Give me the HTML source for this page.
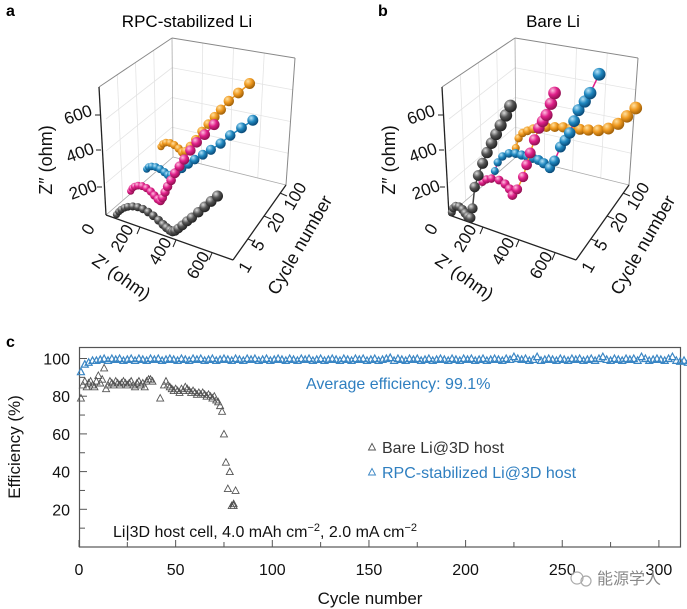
<!DOCTYPE html>
<html><head><meta charset="utf-8"><style>
body{margin:0;background:#fff;}
svg{display:block;font-family:"Liberation Sans","Noto Sans CJK SC",sans-serif;}
</style></head><body>
<svg id="fig" width="687" height="609" viewBox="0 0 687 609">
<defs>
<radialGradient id="gk" cx="35%" cy="30%" r="70%"><stop offset="0" stop-color="#ddd"/><stop offset="0.5" stop-color="#555"/><stop offset="1" stop-color="#222"/></radialGradient>
<radialGradient id="gp" cx="35%" cy="30%" r="70%"><stop offset="0" stop-color="#ffc0e0"/><stop offset="0.5" stop-color="#e0208a"/><stop offset="1" stop-color="#901050"/></radialGradient>
<radialGradient id="gb" cx="35%" cy="30%" r="70%"><stop offset="0" stop-color="#b8e4f8"/><stop offset="0.5" stop-color="#2088c0"/><stop offset="1" stop-color="#0a4a78"/></radialGradient>
<radialGradient id="go" cx="35%" cy="30%" r="70%"><stop offset="0" stop-color="#ffe0a0"/><stop offset="0.5" stop-color="#f09a20"/><stop offset="1" stop-color="#a06008"/></radialGradient>
</defs>
<text x="6" y="16" font-size="16" font-weight="bold">a</text>
<text x="378" y="16" font-size="16" font-weight="bold">b</text>
<text x="6" y="347" font-size="16" font-weight="bold">c</text>
<text x="187" y="27" font-size="17" text-anchor="middle">RPC-stabilized Li</text>
<text x="553" y="27" font-size="17" text-anchor="middle">Bare Li</text>
<g id="pa"></g>
<g id="pb"></g>
<g id="pc"></g>
<g>
<circle cx="577" cy="578" r="6" fill="none" stroke="#aaa" stroke-width="1.2"/>
<circle cx="586" cy="581" r="5" fill="none" stroke="#aaa" stroke-width="1.2"/>
<text x="597" y="584" font-size="16" fill="#888">能源学人</text>
</g>
</svg>
<script>
// ---- Panel a data: [Z', Z''] per cycle ----
const cycleLabels = ['1','5','20','100'];
const aCycle1 = [[50,5],[65,25],[80,40],[100,55],[120,66],[150,76],[180,80],[210,78],[240,70],[270,58],[300,42],[325,26],[345,14],[365,5],[380,2],[395,10],[415,28],[440,52],[470,82],[500,110],[540,150],[580,190],[620,230],[660,270]];
const aCycle5 = [[40,10],[50,28],[65,42],[85,52],[110,56],[135,52],[160,40],[180,25],[200,10],[215,5],[228,25],[245,60],[262,95],[285,135],[310,180],[340,225],[370,270],[410,330],[450,385],[500,440],[560,510]];
const aCycle20 = [[40,10],[52,25],[70,33],[95,36],[120,32],[145,22],[165,12],[185,18],[215,40],[250,70],[290,105],[330,140],[380,180],[430,220],[490,270],[550,330],[620,390],[690,450]];
const aCycle100 = [[30,10],[42,28],[60,40],[85,45],[110,40],[135,28],[155,14],[175,25],[205,60],[240,105],[280,160],[320,210],[360,260],[400,310],[450,370],[510,430],[580,500]];
// ---- Panel b data ----
const bCycle1 = [[5,5],[15,30],[30,46],[50,48],[70,38],[85,22],[100,8],[115,5],[130,60],[150,181],[175,250],[205,324],[235,390],[265,449],[295,505],[325,562],[360,625],[390,684]];
const bCycle5 = [[95,74],[120,95],[150,108],[195,112],[230,100],[255,80],[270,51],[300,90],[340,168],[365,240],[390,311],[420,390],[450,462],[475,505],[500,546],[530,615],[555,680]];
const bCycle20 = [[70,8],[90,60],[120,100],[160,128],[200,138],[235,139],[270,140],[300,140],[335,139],[365,130],[400,114],[430,160],[470,246],[500,290],[530,338],[560,410],[590,478],[630,535],[665,590],[725,708]];
const bCycle100 = [[100,22],[120,80],[145,115],[175,135],[210,155],[250,172],[290,186],[340,200],[390,212],[440,220],[490,228],[540,238],[600,252],[660,278],[720,320],[775,375],[830,435]];

function S(tag,attrs,parent){const e=document.createElementNS('http://www.w3.org/2000/svg',tag);for(const k in attrs)e.setAttribute(k,attrs[k]);parent.appendChild(e);return e;}

function draw3D(gid,dx,series,grads,lineColors,bigBall){
  const g=document.getElementById(gid);
  const O=[108+dx,213];
  const proj=(idx,a,b)=>[O[0]+16*idx+0.17*a-0.01*b, O[1]-22*idx+0.05*a-0.185*b];
  const L=(x1,y1,x2,y2,c,w)=>S('line',{x1:x1+dx,y1,x2:x2+dx,y2,stroke:c,'stroke-width':w},g);
  for(let i=1;i<4;i++){L(172+(295-172)*i/4,38+(58-38)*i/4,173+(286-173)*i/4,157+(185-157)*i/4,'#e4e4e4',0.8);}
  for(let i=1;i<4;i++){L(172,38+119*i/4,295-9*i/4,58+127*i/4,'#e4e4e4',0.8);}
  for(let i=1;i<4;i++){L(99+73*i/4,87-49*i/4,106+67*i/4,215-58*i/4,'#e4e4e4',0.8);}
  for(let i=1;i<4;i++){L(106,215-128*i/4+0,172,38+119-119*i/4,'#e4e4e4',0.8);}
  L(172,38,173,157,'#aaa',0.8);L(106,215,173,157,'#aaa',0.8);L(173,157,286,185,'#aaa',0.8);
  L(99,87,172,38,'#888',1);L(172,38,295,58,'#888',1);L(295,58,286,185,'#888',1);
  L(99,87,106,215,'#222',1.3);L(106,215,233,260,'#222',1.3);L(233,260,286,185,'#222',1.3);
  [[102,187],[101,150],[100,115]].forEach(p=>L(p[0],p[1],p[0]-5,p[1],'#222',1));
  [[140,227],[176,240],[212,253]].forEach(p=>L(p[0],p[1],p[0]-3,p[1]+7,'#222',1));
  [[248,239],[264,216],[280,193]].forEach(p=>L(p[0],p[1],p[0]+7,p[1]+3,'#222',1));
  const T=(x,y,t,rot,fs,anchor)=>{const e=S('text',{x:x+dx,y,'font-size':fs,'text-anchor':anchor||'middle',transform:`rotate(${rot} ${x+dx} ${y})`,fill:'#111'},g);e.textContent=t;return e;};
  T(93,232,'0',-60,17);T(127,241,'200',-60,17);T(165,254,'400',-60,17);T(203,268,'600',-60,17);
  T(85,195,'200',-20,17);T(82,158,'400',-20,17);T(80,120,'600',-20,17);
  T(250,270,'1',-60,17);T(263,248,'5',-60,17);T(281,225,'20',-60,17);T(300,199,'100',-60,17);
  const zl=T(52,160,'Z″ (ohm)',-90,18);
  const xl=T(118,282,'Z′ (ohm)',35,18);
  const cl=T(305,248,'Cycle number',-60,18);
  for(let s=series.length-1;s>=0;s--){
    const pts=series[s].map(p=>proj(s,p[0],p[1]));
    const pl=S('polyline',{points:pts.map(p=>p.join(',')).join(' '),fill:'none',stroke:lineColors[s],'stroke-width':1.5},g);
    
    
    pts.forEach((p,i)=>{
      const r=bigBall?(4+2.5*i/pts.length):(3.6+2*i/pts.length);
      const c=S('circle',{cx:p[0],cy:p[1],r,fill:`url(#${grads[s]})`},g);
      
      
    });
  }
}
draw3D('pa',0,[aCycle1,aCycle5,aCycle20,aCycle100],['gk','gp','gb','go'],['#444','#e0208a','#2088c0','#f09a20'],false);
draw3D('pb',343,[bCycle1,bCycle5,bCycle20,bCycle100],['gk','gp','gb','go'],['#444','#f09a20','#e0208a','#f09a20'],true);
</script>
<script>
// ---- Panel c data ----
const xTicks=[0,50,100,150,200,250,300];
const yTicks=[20,40,60,80,100];
const bareCycles=[1,2,3,4,5,6,7,8,9,10,11,12,13,14,15,16,17,18,19,20,21,22,23,24,25,26,27,28,29,30,31,32,33,34,35,36,37,38,42,44,45,46,47,48,49,50,51,52,53,54,55,56,57,58,59,60,61,62,63,64,65,66,67,68,69,70,71,72,73,74,75,76,77,78,79,80,81,80];
const bareEff=[79,86,88,85,87,88,86,85,88,91,87,89,95,84,86,88,87,86,88,87,86,87,88,87,86,87,88,86,85,87,88,86,87,85,88,89,89,88,79,86,88,86,85,84,83,84,83,82,84,83,85,84,83,82,83,82,81,82,81,82,81,80,81,80,79,80,78,77,75,72,60,45,31,40,22,23,30,22];
const rpcEffStr="93 97 98 99 99 99.5 100 99 100 99.5 100 99 99.5 100 99 100 99.5 99 100 99.5 100 99 99.5 100 99.5 99 100 99.5 99 100 99.5 100 99 99.5 100 99 99.5 100 99.5 99 100 99.5 99 100 99.5 100 99 99.5 100 99 99.5 100 99.5 99 100 99.5 99 100 99.5 100 99 99.5 100 99 99.5 100 99.5 99 100 99.5 99 100 99.5 100 99 99.5 100 99 99.5 100 100.5 99 100 99.5 99 100 99.5 100 99 99.5 100 99 99.5 100 99.5 99 100 99.5 99 100 99.5 100 99 99.5 100 99 99.5 100 99.5 99 100 99.5 101 100 99.5 100 99 99.5 101 99 99.5 100 99.5 99 100 99.5 99 100 99.5 100 99 99.5 100 99 100 101 99.5 99 100 99.5 99 100 99.5 100 99 101 100 99 99.5 100 99.5 99 100 101 99 98.5 99 98";
const rpcEff=rpcEffStr.split(' ').map(Number);
const rpcCycles=rpcEff.map((v,i)=>1+2*i);

(function(){
  const g=document.getElementById('pc');
  const X0=79,XS=1.933,Y0=547,YS=1.885;
  const xs=c=>X0+XS*c, ys=v=>Y0-YS*v;
  const fr=S('rect',{x:79.5,y:347.5,width:601,height:199.5,fill:'none',stroke:'#555','stroke-width':1.2},g);
  
  for(let c=25;c<=300;c+=50)S('line',{x1:xs(c),y1:547,x2:xs(c),y2:542,stroke:'#555'},g);
  xTicks.forEach(t=>{S('line',{x1:xs(t),y1:547,x2:xs(t),y2:540,stroke:'#555'},g);
    const e=S('text',{x:xs(t),y:575,'font-size':16,'text-anchor':'middle',fill:'#111'},g);e.textContent=t;
    });
  for(let v=10;v<=100;v+=20)S('line',{x1:80,y1:ys(v),x2:85,y2:ys(v),stroke:'#555'},g);
  yTicks.forEach(t=>{S('line',{x1:80,y1:ys(t),x2:87,y2:ys(t),stroke:'#555'},g);
    const e=S('text',{x:70,y:ys(t)+6,'font-size':16,'text-anchor':'end',fill:'#111'},g);e.textContent=t;
    });
  const tri=(x,y)=>`M${x-3.5},${y+3} L${x},${y-3.5} L${x+3.5},${y+3} Z`;
  let d='';rpcCycles.forEach((c,i)=>{d+=tri(xs(c),ys(rpcEff[i]));});
  const rp=S('path',{d,fill:'none',stroke:'#3a86c4','stroke-width':1.2},g);
  
  d='';bareCycles.forEach((c,i)=>{d+=tri(xs(c),ys(bareEff[i]));});
  const bp=S('path',{d,fill:'none',stroke:'#555','stroke-width':0.9},g);
  
  const txt=(x,y,t,fs,col,name,anchor,rot)=>{const e=S('text',{x,y,'font-size':fs,fill:col,'text-anchor':anchor||'start'},g);if(rot)e.setAttribute('transform',`rotate(${rot} ${x} ${y})`);e.textContent=t;
    return e;};
  txt(306,389,'Average efficiency: 99.1%',16,'#2f7fc0','average-efficiency-annotation');
  S('path',{d:tri(372,447),fill:'none',stroke:'#555','stroke-width':0.9},g);
  txt(382,453,'Bare Li@3D host',16,'#333','legend-entry-bare');
  S('path',{d:tri(372,472),fill:'none',stroke:'#3a86c4','stroke-width':0.9},g);
  txt(382,478,'RPC-stabilized Li@3D host',16,'#2f7fc0','legend-entry-rpc');
  const n=S('text',{x:113,y:537,'font-size':16,fill:'#111'},g);
  n.innerHTML='Li|3D host cell, 4.0 mAh cm<tspan dy="-6" font-size="11">−2</tspan><tspan dy="6">, 2.0 mA cm</tspan><tspan dy="-6" font-size="11">−2</tspan>';
  
  txt(370,604,'Cycle number',17,'#111','x-axis-title','middle');
  txt(20,447,'Efficiency (%)',17,'#111','y-axis-title','middle',-90);
})();
</script>
</body></html>
